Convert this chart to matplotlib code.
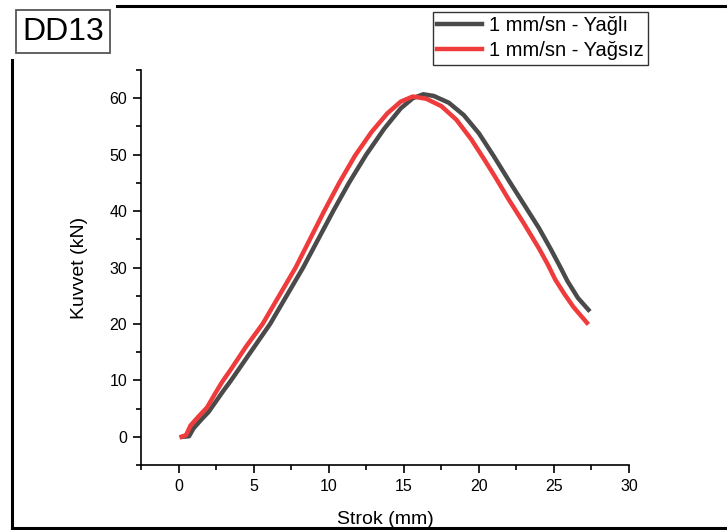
import numpy as np
import matplotlib
matplotlib.use("Agg")
import matplotlib.pyplot as plt
from matplotlib.lines import Line2D
from matplotlib.ticker import MultipleLocator

plt.rcParams['font.family'] = ['Liberation Sans', 'DejaVu Sans']

# Yağlı (gri)
strok_yagli = [0.3, 0.7, 1.0, 1.5, 2.0, 2.5, 3.0, 3.5, 4.8, 6.1, 7.2, 8.3, 9.3,
               10.3, 11.35, 12.5, 13.7, 14.8, 15.6, 16.3, 17.0, 18.0, 19.0, 20.0,
               21.0, 22.0, 23.0, 24.0, 24.8, 25.4, 25.9, 26.6, 27.3]
kuvvet_yagli = [0.0, 0.1, 1.5, 3.0, 4.4, 6.3, 8.2, 10.0, 15.0, 20.0, 25.0, 30.0, 35.0,
                40.0, 45.0, 50.0, 54.6, 58.2, 60.0, 60.7, 60.4, 59.2, 57.0, 53.8,
                49.7, 45.4, 41.2, 37.0, 33.2, 30.2, 27.6, 24.6, 22.5]

# Yağsız (kırmızı)
strok_yagsiz = [0.2, 0.5, 0.8, 1.3, 1.9, 2.4, 2.9, 3.5, 4.5, 5.6, 6.7, 7.8, 8.75,
                9.7, 10.7, 11.75, 12.85, 13.9, 14.8, 15.6, 16.5, 17.5, 18.5, 19.5,
                20.3, 21.1, 22.0, 23.0, 24.0, 24.6, 25.1, 25.7, 26.3, 27.2]
kuvvet_yagsiz = [0.0, 0.3, 2.0, 3.5, 5.2, 7.5, 9.7, 12.0, 16.0, 20.0, 25.0, 30.0, 35.0,
                 40.0, 45.0, 49.8, 54.0, 57.3, 59.4, 60.3, 59.9, 58.6, 56.2, 52.7,
                 49.4, 46.0, 42.0, 37.8, 33.4, 30.5, 27.8, 25.3, 23.0, 20.2]

etiketler = ['1 mm/sn - Yağlı', '1 mm/sn - Yağsız']
renkler = ['#4a4a4a', '#ef3b3b']

W, H = 727, 530
fig = plt.figure(figsize=(W / 100, H / 100), dpi=100)
ax = fig.add_axes([141 / W, 1 - 465 / H, (629 - 141) / W, (465 - 70) / H])

ax.plot(strok_yagli, kuvvet_yagli, color=renkler[0], lw=3.2, label=etiketler[0],
        solid_joinstyle='round')
ax.plot(strok_yagsiz, kuvvet_yagsiz, color=renkler[1], lw=3.2, label=etiketler[1],
        solid_joinstyle='round')

ax.set_xlim(-2.5, 30)
ax.set_ylim(-5, 65)
ax.xaxis.set_major_locator(MultipleLocator(5))
ax.xaxis.set_minor_locator(MultipleLocator(2.5))
ax.yaxis.set_major_locator(MultipleLocator(10))
ax.yaxis.set_minor_locator(MultipleLocator(5))
ax.set_xticks([0, 5, 10, 15, 20, 25, 30])
ax.set_yticks([0, 10, 20, 30, 40, 50, 60])

for s in ['top', 'right']:
    ax.spines[s].set_visible(False)
for s in ['left', 'bottom']:
    ax.spines[s].set_linewidth(1.2)
ax.tick_params(which='major', direction='out', length=6, width=1.2, labelsize=11.5, pad=4)
ax.tick_params(which='minor', direction='out', length=3.5, width=1.2)

ax.set_xlabel('Strok (mm)', fontsize=14, labelpad=12)
ax.set_ylabel('Kuvvet (kN)', fontsize=14, labelpad=15)

leg = ax.legend(loc='upper right', bbox_to_anchor=(648 / W, 1 - 12 / H),
                bbox_transform=fig.transFigure, fontsize=14.5, frameon=True,
                fancybox=False, borderaxespad=0, handlelength=2.2,
                handletextpad=0.35, labelspacing=0.3, borderpad=0.22)
leg.get_frame().set_edgecolor('black')
leg.get_frame().set_linewidth(1.0)
for ln in leg.get_lines():
    ln.set_linewidth(3.2)

# dış çerçeve (sol üst köşe DD13 kutusunun altında açık)
cerceve = [((117, 727), (5.5, 5.5)),
           ((11.7, 11.7), (60, 527.5)),
           ((11.7, 727), (527.5, 527.5))]
for xs, ys in cerceve:
    fig.add_artist(Line2D([x / W for x in xs], [1 - y / H for y in ys],
                          transform=fig.transFigure, color='black', lw=2.2,
                          solid_capstyle='projecting'))

fig.text(63 / W, 1 - 31.5 / H, 'DD13', fontsize=23, ha='center', va='center',
         bbox=dict(boxstyle='square,pad=0.2', facecolor='white',
                   edgecolor='#555555', lw=1.3))

fig.savefig('out.png', dpi=100)
